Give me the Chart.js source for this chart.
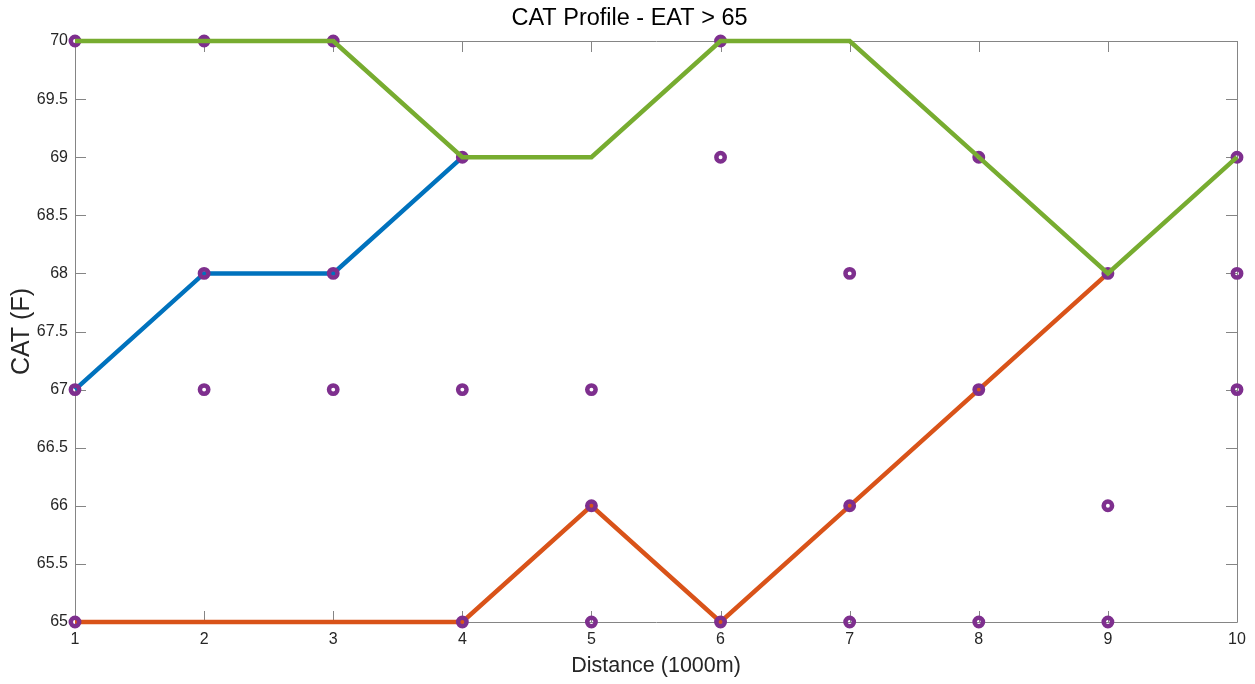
<!DOCTYPE html>
<html>
<head>
<meta charset="utf-8">
<script src="https://cdn.jsdelivr.net/npm/chart.js@4/dist/chart.umd.min.js"></script>
<style>
  html, body { margin: 0; padding: 0; background: #fff; }
  #wrap { width: 1255px; height: 684px; }
</style>
</head>
<body>
<div id="wrap"><canvas id="c" width="1255" height="684"></canvas></div>
<script>
// ---- data ----
const distance = [1, 2, 3, 4, 5, 6, 7, 8, 9, 10];
const blueCAT   = [67, 68, 68, 69, null, null, null, null, null, null];
const orangeCAT = [65, 65, 65, 65, 66, 65, 66, 67, 68, null];
const greenCAT  = [70, 70, 70, 69, 69, 70, 70, 69, 68, 69];
const sampleX = [1,1,1, 2,2,2, 3,3,3, 4,4,4, 5,5,5, 6,6,6, 7,7,7, 8,8,8, 9,9,9, 10,10,10];
const sampleY = [70,67,65, 70,68,67, 70,68,67, 69,67,65, 67,66,65, 70,69,65, 68,66,65, 69,67,65, 68,66,65, 69,68,67];
const yTicks = [65, 65.5, 66, 66.5, 67, 67.5, 68, 68.5, 69, 69.5, 70];
const xTicks = distance;

const toPts = (xs, ys) => xs.map((x, i) => ({ x: x, y: ys[i] }));

const FONT = "'Liberation Sans', Arial, Helvetica, sans-serif";
const TXT = '#262626';
const AXC = '#858585';

const boxPlugin = {
  id: 'box',
  beforeDatasetsDraw(chart) {
    const { ctx, chartArea: a, scales } = chart;
    ctx.save();
    ctx.strokeStyle = AXC;
    ctx.lineWidth = 1;
    ctx.beginPath();
    ctx.rect(Math.round(a.left) + 0.5, Math.round(a.top) + 0.5,
             Math.round(a.right - a.left), Math.round(a.bottom - a.top));
    ctx.stroke();
    const L = 11;
    ctx.beginPath();
    xTicks.forEach(v => {
      const px = Math.round(scales.x.getPixelForValue(v)) + 0.5;
      ctx.moveTo(px, a.bottom); ctx.lineTo(px, a.bottom - L);
      ctx.moveTo(px, a.top); ctx.lineTo(px, a.top + L);
    });
    yTicks.forEach(v => {
      const py = Math.round(scales.y.getPixelForValue(v)) + 0.5;
      ctx.moveTo(a.left, py); ctx.lineTo(a.left + L, py);
      ctx.moveTo(a.right, py); ctx.lineTo(a.right - L, py);
    });
    ctx.stroke();
    ctx.restore();
  }
};

new Chart(document.getElementById('c'), {
  type: 'line',
  data: {
    datasets: [
      { label: 'green', data: toPts(distance, greenCAT), borderColor: '#77AC30', borderWidth: 4.5,
        pointRadius: 0, order: 0, tension: 0, clip: false },
      { label: 'samples', type: 'scatter', data: toPts(sampleX, sampleY), showLine: false,
        pointRadius: 4.2, pointBorderWidth: 4.5, pointBackgroundColor: 'rgba(0,0,0,0)',
        pointBorderColor: '#7E2F8E', borderColor: '#7E2F8E', order: 1, clip: false },
      { label: 'orange', data: toPts(distance, orangeCAT), borderColor: '#D95319', borderWidth: 4.5,
        pointRadius: 0, order: 2, tension: 0, clip: false },
      { label: 'blue', data: toPts(distance, blueCAT), borderColor: '#0072BD', borderWidth: 4.5,
        pointRadius: 0, order: 3, tension: 0, clip: false }
    ]
  },
  options: {
    responsive: false,
    animation: false,
    layout: { padding: { left: 22, right: 18, top: 0, bottom: 0 } },
    plugins: {
      legend: { display: false },
      tooltip: { enabled: false },
      title: { display: true, text: 'CAT Profile - EAT > 65', color: '#000',
        font: { family: FONT, size: 23.5, weight: 'normal', lineHeight: 1.2 },
        padding: { top: 4.9, bottom: 7.9 } }
    },
    scales: {
      x: {
        type: 'linear', min: 1, max: 10,
        grid: { display: false, drawTicks: false }, border: { display: false },
        ticks: { stepSize: 1, color: TXT, padding: 8, font: { family: FONT, size: 16 },
                 maxRotation: 0, autoSkip: false },
        afterBuildTicks(s) { s.ticks = xTicks.map(v => ({ value: v })); },
        title: { display: true, text: 'Distance (1000m)', color: TXT,
                 font: { family: FONT, size: 21.5 }, padding: { top: 0, bottom: 5.2 } },
        afterFit(s) { s.height = 62; }
      },
      y: {
        type: 'linear', min: 65, max: 70,
        grid: { display: false, drawTicks: false }, border: { display: false },
        ticks: { stepSize: 0.5, color: TXT, padding: 7, font: { family: FONT, size: 16 },
                 callback: v => String(v) },
        afterBuildTicks(s) { s.ticks = yTicks.map(v => ({ value: v })); },
        title: { display: true, text: 'CAT (F)', color: TXT,
                 font: { family: FONT, size: 25, lineHeight: '0px' }, padding: { top: 0, bottom: 0 } },
        afterFit(s) { s.width = 53; }
      }
    }
  },
  plugins: [boxPlugin]
});
</script>
</body>
</html>
